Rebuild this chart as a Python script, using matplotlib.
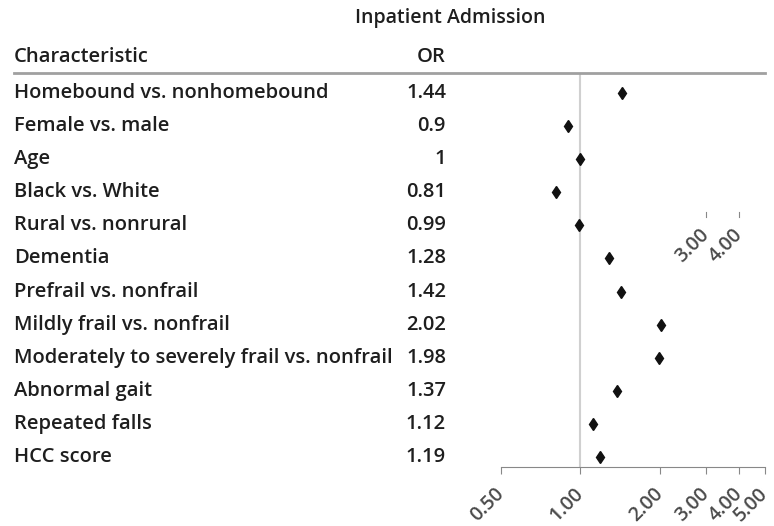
import numpy as np
import matplotlib
matplotlib.use("Agg")
import matplotlib.pyplot as plt
from matplotlib.transforms import blended_transform_factory
from matplotlib.ticker import FixedLocator, NullLocator

plt.rcParams['font.family'] = ['Open Sans', 'DejaVu Sans']

characteristics = [
    "Homebound vs. nonhomebound",
    "Female vs. male",
    "Age",
    "Black vs. White",
    "Rural vs. nonrural",
    "Dementia",
    "Prefrail vs. nonfrail",
    "Mildly frail vs. nonfrail",
    "Moderately to severely frail vs. nonfrail",
    "Abnormal gait",
    "Repeated falls",
    "HCC score",
]
odds_ratios = [1.44, 0.9, 1, 0.81, 0.99, 1.28, 1.42, 2.02, 1.98, 1.37, 1.12, 1.19]
or_labels = ["1.44", "0.9", "1", "0.81", "0.99", "1.28", "1.42", "2.02", "1.98", "1.37", "1.12", "1.19"]
xticks = [0.5, 1, 2, 3, 4, 5]
xtick_labels = ["0.50", "1.00", "2.00", "3.00", "4.00", "5.00"]
stray_ticks = [3, 4]
stray_labels = ["3.00", "4.00"]

W, H = 774, 526
fig = plt.figure(figsize=(W / 100, H / 100), dpi=100)
txt = "#1e1e1e"
fs = 14.5
fw = "semibold"
tick_fs = 14
tick_col = "#4a4a4a"

ax = fig.add_axes([501 / W, 1 - 467 / H, (765 - 501) / W, (467 - 73) / H])
ax.set_xscale("log")
ax.set_xlim(0.5, 5)
rows = np.arange(len(characteristics))
ax.set_ylim(len(rows) - 1 + 10 / 33.1, -20 / 33.1)

ax.axvline(1, color="#d0d0d0", lw=1.5, zorder=1)
ax.plot(odds_ratios, rows, linestyle="none", marker="d", markersize=6.5,
        color="#111111", zorder=3)

for s in ["top", "right", "left"]:
    ax.spines[s].set_visible(False)
ax.spines["bottom"].set_color("#888888")
ax.yaxis.set_major_locator(NullLocator())
ax.xaxis.set_major_locator(FixedLocator(xticks))
ax.xaxis.set_minor_locator(NullLocator())
ax.set_xticklabels(xtick_labels, rotation=45, ha="right", va="center",
                   rotation_mode="anchor", fontsize=tick_fs, fontweight=fw,
                   color=tick_col)
ax.tick_params(axis="x", length=5, color="#888888", pad=12)

# text columns: figure x, data y
tr = blended_transform_factory(fig.transFigure, ax.transData)
for i, (name, lab) in enumerate(zip(characteristics, or_labels)):
    fig.text(14 / W, i, name, transform=tr, ha="left", va="center",
             fontsize=fs, fontweight=fw, color=txt)
    fig.text(446 / W, i, lab, transform=tr, ha="right", va="center",
             fontsize=fs, fontweight=fw, color=txt)

# header
fig.text(450 / W, 1 - 18 / H, "Inpatient Admission", ha="center", va="center",
         fontsize=fs - 0.5, fontweight=fw, color=txt)
fig.text(14 / W, 1 - 57 / H, "Characteristic", ha="left", va="center",
         fontsize=fs, fontweight=fw, color=txt)
fig.text(446 / W, 1 - 57 / H, "OR", ha="right", va="center",
         fontsize=fs, fontweight=fw, color=txt)
fig.add_artist(plt.Line2D([14 / W, 765 / W], [1 - 73 / H, 1 - 73 / H],
                          color="#a0a0a0", lw=2))

# stray duplicated tick labels in the original
stray_tr = blended_transform_factory(ax.transData, fig.transFigure)
for v, lab in zip(stray_ticks, stray_labels):
    ax.plot([v, v], [1 - 212 / H, 1 - 217 / H], transform=stray_tr,
            color="#888888", lw=0.8, clip_on=False)
    ax.text(v, 1 - 232 / H, lab, transform=stray_tr, rotation=45,
            ha="right", va="center", rotation_mode="anchor",
            fontsize=tick_fs, fontweight=fw, color=tick_col, clip_on=False)

fig.savefig("out.png", dpi=100)
